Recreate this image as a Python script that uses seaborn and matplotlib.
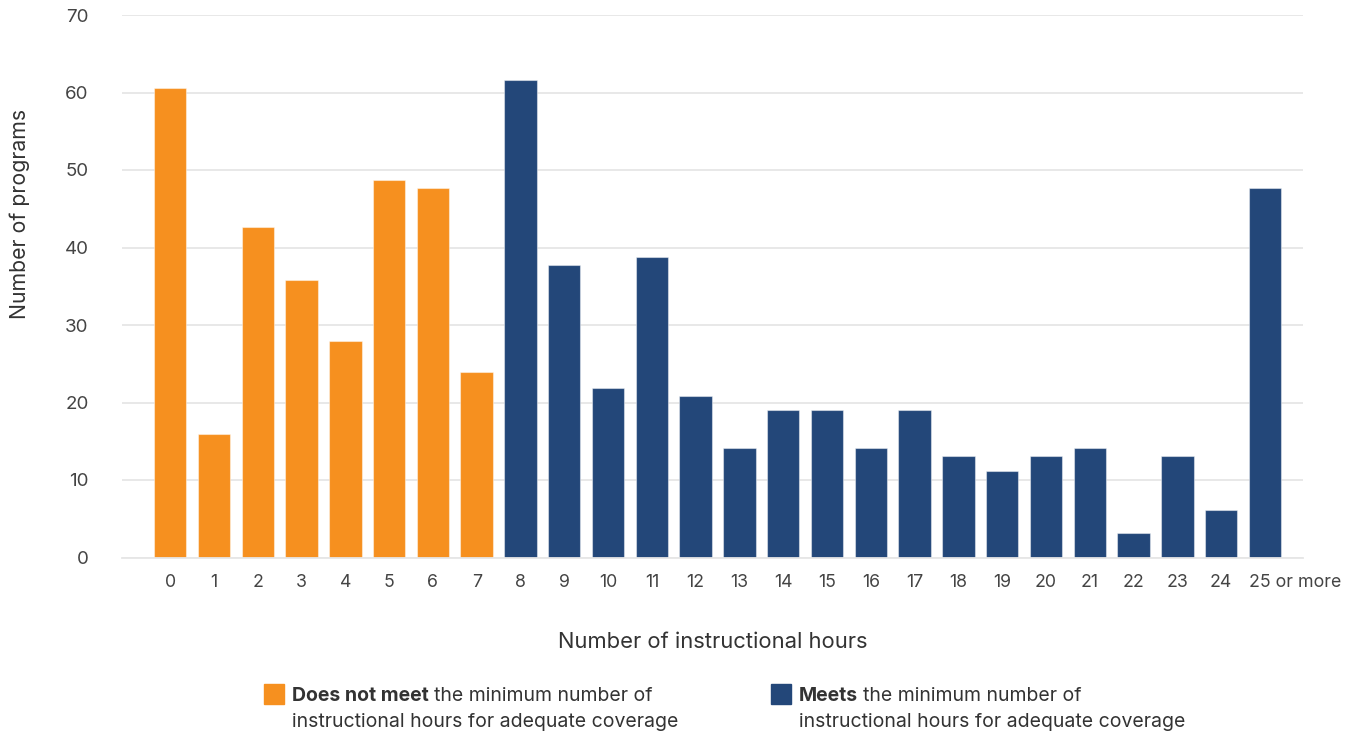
import matplotlib
matplotlib.use("Agg")
import matplotlib.pyplot as plt
import matplotlib.transforms as mtransforms
from matplotlib.patches import Rectangle
import seaborn as sns
import pandas as pd

# data
hours = ["0", "1", "2", "3", "4", "5", "6", "7", "8", "9", "10", "11", "12",
         "13", "14", "15", "16", "17", "18", "19", "20", "21", "22", "23", "24",
         "25 or more"]
programs = [60.6, 16.0, 42.7, 35.8, 27.9, 48.7, 47.7, 23.9, 61.6, 37.8, 21.9,
            38.8, 20.9, 14.1, 19.0, 19.0, 14.1, 19.0, 13.1, 11.1, 13.1, 14.1,
            3.1, 13.1, 6.1, 47.7]
min_hours = 8
groups = ["Does not meet", "Meets"]
colors = {"Does not meet": "#F6901F", "Meets": "#234779"}

df = pd.DataFrame({
    "hours": hours,
    "programs": programs,
    "group": [groups[0] if i < min_hours else groups[1] for i in range(len(hours))],
})

sns.set_theme(style="white")
plt.rcParams['font.family'] = ['Inter', 'DejaVu Sans']

fig = plt.figure(figsize=(13.5, 7.36), dpi=100)
ax = fig.add_axes([122 / 1350, 1 - 557.5 / 736, (1303 - 122) / 1350, (557.5 - 15) / 736])

sns.barplot(data=df, x="hours", y="programs", hue="group", order=hours,
            palette=colors, dodge=False, width=0.74, legend=False, saturation=1,
            edgecolor=(1, 1, 1, 0.45), linewidth=0.8, ax=ax)

ax.set_ylim(0, 70)
ax.set_xlim(-1.1, 25.87)
ax.set_yticks(range(0, 71, 10))
ax.grid(axis="y", color="#e6e6e6", linewidth=1.3)
ax.set_axisbelow(True)
for side in ["top", "right", "left"]:
    ax.spines[side].set_visible(False)
ax.spines["bottom"].set_color("#e6e6e6")
ax.spines["bottom"].set_linewidth(1.3)
ax.tick_params(axis="both", length=0, colors="#444444")
ax.tick_params(axis="y", pad=24, labelsize=13.5)
ax.tick_params(axis="x", pad=12, labelsize=12.8)
ax.set_xlabel("")
ax.set_ylabel("")

# last tick label starts at the bar's left edge
last = ax.get_xticklabels()[-1]
last.set_horizontalalignment("left")
last.set_transform(last.get_transform() +
                   mtransforms.ScaledTranslation(-16 / 100, 0, fig.dpi_scale_trans))

fig.text(713 / 1350, 1 - 642 / 736, "Number of instructional hours",
         ha="center", va="center", fontsize=15.8, color="#333333")
fig.text(20 / 1350, 1 - 214 / 736, "Number of programs", rotation=90,
         ha="center", va="center", fontsize=15.3, color="#333333")

# legend drawn by hand: square, bold lead, regular rest on two lines
renderer = fig.canvas.get_renderer()
legend_items = [
    (264, "Does not meet", colors["Does not meet"]),
    (771, "Meets", colors["Meets"]),
]
for x0, lead, col in legend_items:
    fig.patches.append(Rectangle((x0 / 1350, 1 - 704 / 736), 20 / 1350, 20 / 736,
                                 transform=fig.transFigure, color=col))
    tx = (x0 + 28) / 1350
    t1 = fig.text(tx, 1 - 696 / 736, lead, fontsize=14, fontweight="bold",
                  color="#333333", va="center", ha="left")
    w = t1.get_window_extent(renderer).width
    fig.text(tx + (w + 5) / 1350, 1 - 696 / 736, "the minimum number of",
             fontsize=14, color="#333333", va="center", ha="left")
    fig.text(tx, 1 - 722 / 736, "instructional hours for adequate coverage",
             fontsize=14, color="#333333", va="center", ha="left")

fig.savefig("out.png", dpi=100)
